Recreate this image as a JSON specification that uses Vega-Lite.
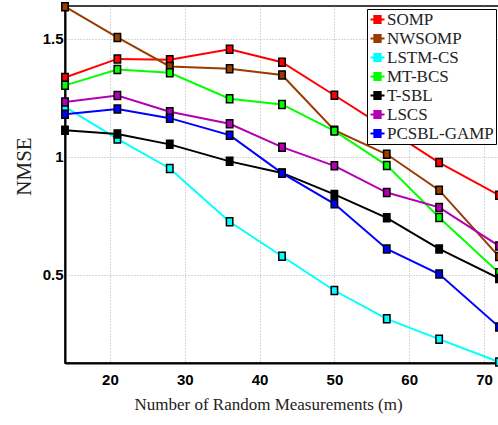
{
  "$schema": "https://vega.github.io/schema/vega-lite/v6.json",
  "width": 434,
  "height": 357,
  "autosize": {"type": "none"},
  "padding": {"left": 65, "top": 6, "right": 0, "bottom": 62},
  "background": "white",
  "config": {
    "view": {"stroke": "black", "strokeWidth": 1.5},
    "axis": {
      "domainColor": "black",
      "domainWidth": 2,
      "ticks": false,
      "gridColor": "#b0b0b0",
      "gridDash": [1, 2],
      "gridWidth": 1,
      "labelFont": "Liberation Sans, Arial, sans-serif",
      "labelFontWeight": "bold",
      "labelFontSize": 15,
      "labelColor": "black",
      "titleFont": "Liberation Serif, Times New Roman, DejaVu Serif, serif",
      "titleFontWeight": "normal",
      "titleColor": "#222"
    }
  },
  "data": {
    "values": [
      {"m": 14, "method": "SOMP", "nmse": 1.336},
      {"m": 21, "method": "SOMP", "nmse": 1.415},
      {"m": 28, "method": "SOMP", "nmse": 1.411},
      {"m": 36, "method": "SOMP", "nmse": 1.456},
      {"m": 43, "method": "SOMP", "nmse": 1.401},
      {"m": 50, "method": "SOMP", "nmse": 1.261},
      {"m": 57, "method": "SOMP", "nmse": 1.12},
      {"m": 64, "method": "SOMP", "nmse": 0.976},
      {"m": 72, "method": "SOMP", "nmse": 0.838},
      {"m": 14, "method": "NWSOMP", "nmse": 1.636},
      {"m": 21, "method": "NWSOMP", "nmse": 1.506},
      {"m": 28, "method": "NWSOMP", "nmse": 1.383},
      {"m": 36, "method": "NWSOMP", "nmse": 1.373},
      {"m": 43, "method": "NWSOMP", "nmse": 1.347},
      {"m": 50, "method": "NWSOMP", "nmse": 1.113},
      {"m": 57, "method": "NWSOMP", "nmse": 1.011},
      {"m": 64, "method": "NWSOMP", "nmse": 0.859},
      {"m": 72, "method": "NWSOMP", "nmse": 0.578},
      {"m": 14, "method": "LSTM-CS", "nmse": 1.212},
      {"m": 21, "method": "LSTM-CS", "nmse": 1.076},
      {"m": 28, "method": "LSTM-CS", "nmse": 0.951},
      {"m": 36, "method": "LSTM-CS", "nmse": 0.725},
      {"m": 43, "method": "LSTM-CS", "nmse": 0.579},
      {"m": 50, "method": "LSTM-CS", "nmse": 0.434},
      {"m": 57, "method": "LSTM-CS", "nmse": 0.314},
      {"m": 64, "method": "LSTM-CS", "nmse": 0.228},
      {"m": 72, "method": "LSTM-CS", "nmse": 0.131},
      {"m": 14, "method": "MT-BCS", "nmse": 1.303},
      {"m": 21, "method": "MT-BCS", "nmse": 1.37},
      {"m": 28, "method": "MT-BCS", "nmse": 1.356},
      {"m": 36, "method": "MT-BCS", "nmse": 1.246},
      {"m": 43, "method": "MT-BCS", "nmse": 1.222},
      {"m": 50, "method": "MT-BCS", "nmse": 1.11},
      {"m": 57, "method": "MT-BCS", "nmse": 0.964},
      {"m": 64, "method": "MT-BCS", "nmse": 0.743},
      {"m": 72, "method": "MT-BCS", "nmse": 0.509},
      {"m": 14, "method": "T-SBL", "nmse": 1.113},
      {"m": 21, "method": "T-SBL", "nmse": 1.097},
      {"m": 28, "method": "T-SBL", "nmse": 1.053},
      {"m": 36, "method": "T-SBL", "nmse": 0.981},
      {"m": 43, "method": "T-SBL", "nmse": 0.932},
      {"m": 50, "method": "T-SBL", "nmse": 0.841},
      {"m": 57, "method": "T-SBL", "nmse": 0.742},
      {"m": 64, "method": "T-SBL", "nmse": 0.61},
      {"m": 72, "method": "T-SBL", "nmse": 0.485},
      {"m": 14, "method": "LSCS", "nmse": 1.232},
      {"m": 21, "method": "LSCS", "nmse": 1.26},
      {"m": 28, "method": "LSCS", "nmse": 1.191},
      {"m": 36, "method": "LSCS", "nmse": 1.14},
      {"m": 43, "method": "LSCS", "nmse": 1.041},
      {"m": 50, "method": "LSCS", "nmse": 0.962},
      {"m": 57, "method": "LSCS", "nmse": 0.849},
      {"m": 64, "method": "LSCS", "nmse": 0.786},
      {"m": 72, "method": "LSCS", "nmse": 0.623},
      {"m": 14, "method": "PCSBL-GAMP", "nmse": 1.181},
      {"m": 21, "method": "PCSBL-GAMP", "nmse": 1.203},
      {"m": 28, "method": "PCSBL-GAMP", "nmse": 1.164},
      {"m": 36, "method": "PCSBL-GAMP", "nmse": 1.092},
      {"m": 43, "method": "PCSBL-GAMP", "nmse": 0.931},
      {"m": 50, "method": "PCSBL-GAMP", "nmse": 0.801},
      {"m": 57, "method": "PCSBL-GAMP", "nmse": 0.61},
      {"m": 64, "method": "PCSBL-GAMP", "nmse": 0.504},
      {"m": 72, "method": "PCSBL-GAMP", "nmse": 0.28}
    ]
  },
  "encoding": {
    "x": {
      "field": "m",
      "type": "quantitative",
      "scale": {"domain": [14, 72], "nice": false, "zero": false},
      "axis": {
        "values": [20, 30, 40, 50, 60, 70],
        "title": "Number of Random Measurements (m)",
        "titleFontSize": 17,
        "labelPadding": 9,
        "titlePadding": 9,
        "titleX": 203
      }
    },
    "y": {
      "field": "nmse",
      "type": "quantitative",
      "scale": {"domain": [0.127, 1.639], "nice": false, "zero": false},
      "axis": {
        "values": [0.5, 1, 1.5],
        "format": "~g",
        "title": "NMSE",
        "titleFontSize": 21,
        "labelPadding": 2,
        "titlePadding": 8,
        "titleY": 160
      }
    },
    "color": {
      "field": "method",
      "type": "nominal",
      "sort": ["SOMP", "NWSOMP", "LSTM-CS", "MT-BCS", "T-SBL", "LSCS", "PCSBL-GAMP"],
      "scale": {
        "domain": ["SOMP", "NWSOMP", "LSTM-CS", "MT-BCS", "T-SBL", "LSCS", "PCSBL-GAMP"],
        "range": ["#ff0000", "#9a3c00", "#00ffff", "#00ff00", "#000000", "#b400b4", "#0000ff"]
      },
      "legend": {
        "title": null,
        "orient": "top-right",
        "offset": 3,
        "fillColor": "white",
        "strokeColor": "black",
        "padding": 2,
        "rowPadding": 1,
        "labelFont": "Liberation Serif, Times New Roman, DejaVu Serif, serif",
        "labelFontSize": 17,
        "labelColor": "#222",
        "labelOffset": 1,
        "symbolSize": 196,
        "symbolType": "M-1,0H-0.45M0.45,0H1M-0.45,-0.5H0.45V0.5H-0.45Z",
        "symbolStrokeWidth": 2,
        "encode": {
          "symbols": {
            "update": {
              "fill": {"scale": "color", "field": "value"},
              "stroke": {"scale": "color", "field": "value"},
              "opacity": {"value": 1}
            }
          }
        }
      }
    }
  },
  "layer": [
    {"mark": {"type": "line", "strokeWidth": 2}},
    {
      "mark": {
        "type": "point",
        "shape": "M-0.8,-1H0.8V1H-0.8Z",
        "filled": true,
        "size": 64,
        "stroke": "black",
        "strokeWidth": 1.5,
        "opacity": 1
      }
    }
  ]
}
